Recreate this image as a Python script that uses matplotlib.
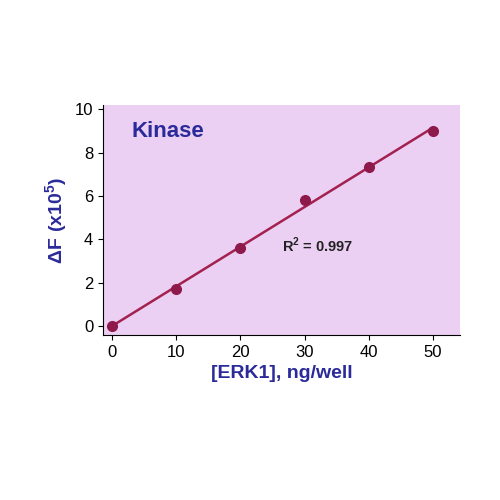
import matplotlib
matplotlib.use('Agg')
import matplotlib.pyplot as plt
import numpy as np

plt.rcParams['font.family'] = ['Liberation Sans', 'DejaVu Sans']
plt.rcParams['mathtext.fontset'] = 'custom'
plt.rcParams['mathtext.bf'] = 'Liberation Sans:bold'
plt.rcParams['mathtext.rm'] = 'Liberation Sans'

erk = [0, 10, 20, 30, 40, 50]
dF = [0.0, 1.7, 3.6, 5.8, 7.35, 9.0]

blue = '#2a2a9a'
fig = plt.figure(figsize=(5, 5), dpi=100)
ax = fig.add_axes([0.206, 0.33, 0.714, 0.46])
ax.set_facecolor('#ecd0f4')

slope, icpt = np.polyfit(erk, dF, 1)
xs = np.array([0, 50])
ax.plot(xs, slope * xs + icpt, color='#a3214f', lw=1.8, zorder=2)
ax.plot(erk, dF, 'o', color='#8e1a4c', ms=7, zorder=3)

ax.set_xlim(-1.4, 54.2)
ax.set_ylim(-0.42, 10.2)
ax.set_xticks(erk)
ax.set_yticks([0, 2, 4, 6, 8, 10])
for s in ['top', 'right']:
    ax.spines[s].set_visible(False)
ax.tick_params(labelsize=12, direction='out')

ax.text(3, 8.7, 'Kinase', color=blue, fontsize=16, fontweight='bold')
ax.text(26.5, 3.4, r'R$^\mathbf{2}$ = 0.997', fontsize=10.5, fontweight='bold', color='#222222')
ax.set_xlabel('[ERK1], ng/well', color=blue, fontsize=14, fontweight='bold')
ax.set_ylabel(r'$\mathbf{\Delta F\ (x10^5)}$', color=blue, fontsize=14)

fig.savefig('out.png')
